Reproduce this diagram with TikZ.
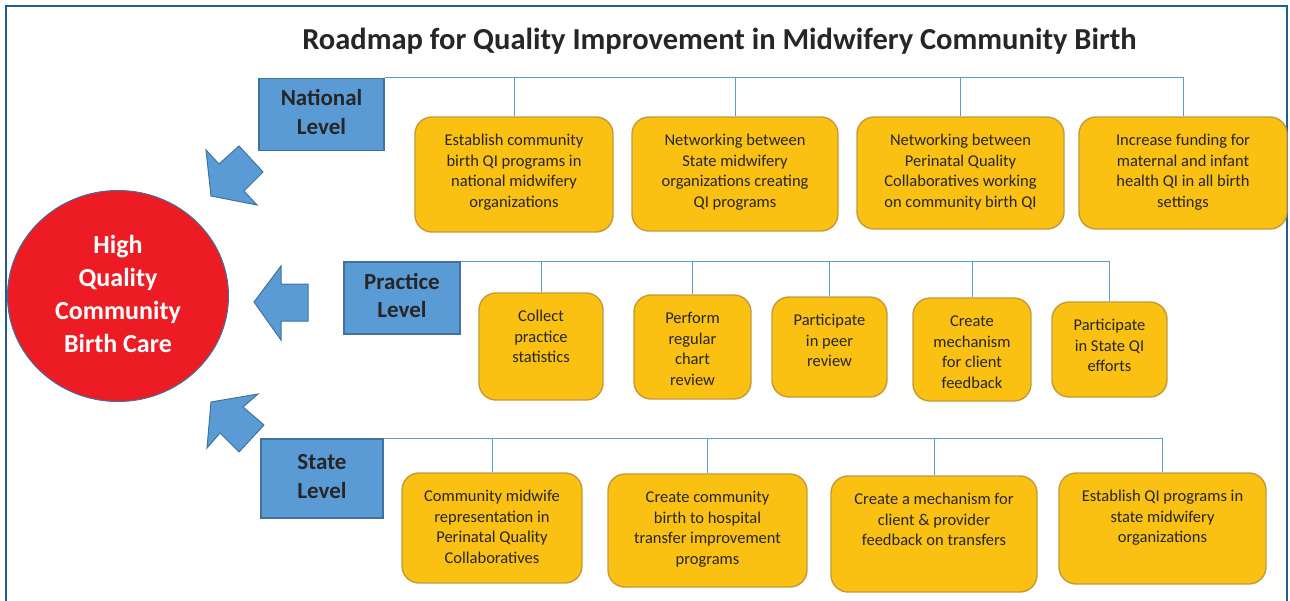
\documentclass[tikz,border=0pt]{standalone}
\usepackage{fontspec}
\setmainfont{Carlito}
\usetikzlibrary{shapes.geometric}

\definecolor{frameblue}{HTML}{1F5F8F}
\definecolor{levelfill}{HTML}{5B9BD5}
\definecolor{levelline}{HTML}{41719C}
\definecolor{goldfill}{HTML}{FAC012}
\definecolor{goldline}{HTML}{C39A3A}
\definecolor{goalred}{HTML}{ED1C24}
\definecolor{bodytext}{HTML}{262626}

\begin{document}
\begin{tikzpicture}[x=1pt,y=-1pt,
  levelbox/.style={draw=levelline, fill=levelfill, line width=1.4pt, inner sep=0pt,
    align=center, text=bodytext, font=\fontsize{23}{28.5}\selectfont\bfseries},
  goldbox/.style={draw=goldline, fill=goldfill, line width=1.4pt, rounded corners=17pt, inner sep=0pt},
  goldtext/.style={anchor=north, align=center, inner sep=0pt, yshift=-14.65pt,
    text=bodytext, font=\fontsize{16.5}{20.5}\selectfont},
  bus/.style={draw=levelfill, line width=1pt},
  blockarrow/.style={draw=levelline, fill=levelfill, line width=1pt, line join=miter},
]
\useasboundingbox (0,0) rectangle (1290,600);

% outer frame (runs off the lower edge)
\draw[frameblue, line width=1.5pt] (6,606) -- (6,6) -- (1287,6) -- (1287,606);

% title
\node[anchor=base, inner sep=0pt, text=bodytext, font=\fontsize{30.5}{36}\selectfont\bfseries]
  (title) at (719.5,49.5) {Roadmap for Quality Improvement in Midwifery Community Birth};

% goal
\node[ellipse, draw=levelline, fill=goalred, line width=1pt, minimum width=221pt,
  minimum height=211pt, inner sep=0pt, align=center, text=white,
  font=\fontsize{26}{33}\selectfont\bfseries] (goal) at (118,296)
  {\strut High\\Quality\\Community\\Birth Care\strut};

% block arrows pointing at the goal
\draw[blockarrow] (211,196) -- (206,150) -- (219,164) -- (239,146) -- (263,172)
  -- (244,191) -- (257,205) -- cycle;
\draw[blockarrow] (254,302) -- (281,266) -- (281,284) -- (308,284) -- (308,321)
  -- (281,321) -- (281,340) -- cycle;
\draw[blockarrow] (211,402) -- (258,394) -- (243,407) -- (264,425) -- (239,452)
  -- (220,433) -- (207,448) -- cycle;

% level boxes
\node[levelbox, minimum width=125pt, minimum height=72pt] (nat) at (321.5,114.5) {\strut National\\Level\strut};
\node[levelbox, minimum width=116pt, minimum height=72pt] (prac) at (402,298) {\strut Practice\\Level\strut};
\node[levelbox, minimum width=122pt, minimum height=79pt] (stat) at (322,478.5) {\strut State\\Level\strut};

% national actions
\node[goldbox, minimum width=198pt, minimum height=115pt] (n1) at (514,174.5) {};
\node[goldbox, minimum width=206pt, minimum height=114pt] (n2) at (735,174) {};
\node[goldbox, minimum width=207pt, minimum height=112pt] (n3) at (960.5,173) {};
\node[goldbox, minimum width=208pt, minimum height=112pt] (n4) at (1183,173) {};
\node[goldtext] (n1t) at (n1.north) {\strut Establish community\\birth QI programs in\\national midwifery\\organizations};
\node[goldtext] (n2t) at (n2.north) {\strut Networking between\\State midwifery\\organizations creating\\QI programs};
\node[goldtext] (n3t) at (n3.north) {\strut Networking between\\Perinatal Quality\\Collaboratives working\\on community birth QI};
\node[goldtext] (n4t) at (n4.north) {\strut Increase funding for\\maternal and infant\\health QI in all birth\\settings};

% practice actions
\node[goldbox, minimum width=124pt, minimum height=107pt] (p1) at (541,346.5) {};
\node[goldbox, minimum width=117pt, minimum height=104pt] (p2) at (692.5,347) {};
\node[goldbox, minimum width=115pt, minimum height=100pt] (p3) at (829.5,347) {};
\node[goldbox, minimum width=118pt, minimum height=103pt] (p4) at (972,349.5) {};
\node[goldbox, minimum width=115pt, minimum height=95pt] (p5) at (1109.5,349.5) {};
\node[goldtext] (p1t) at (p1.north) {\strut Collect\\practice\\statistics};
\node[goldtext] (p2t) at (p2.north) {\strut Perform\\regular\\chart\\review};
\node[goldtext] (p3t) at (p3.north) {\strut Participate\\in peer\\review};
\node[goldtext] (p4t) at (p4.north) {\strut Create\\mechanism\\for client\\feedback};
\node[goldtext] (p5t) at (p5.north) {\strut Participate\\in State QI\\efforts};

% state actions
\node[goldbox, minimum width=180pt, minimum height=110pt] (s1) at (492,528) {};
\node[goldbox, minimum width=199pt, minimum height=113pt] (s2) at (707.5,530.5) {};
\node[goldbox, minimum width=206pt, minimum height=116pt] (s3) at (934,534) {};
\node[goldbox, minimum width=207pt, minimum height=111pt] (s4) at (1162.5,528.5) {};
\node[goldtext] (s1t) at (s1.north) {\strut Community midwife\\representation in\\Perinatal Quality\\Collaboratives};
\node[goldtext] (s2t) at (s2.north) {\strut Create community\\birth to hospital\\transfer improvement\\programs};
\node[goldtext] (s3t) at (s3.north) {\strut Create a mechanism for\\client \& provider\\feedback on transfers};
\node[goldtext] (s4t) at (s4.north) {\strut Establish QI programs in\\state midwifery\\organizations};

% bus lines from each level to its actions
\draw[bus] (nat.north east) -- (n4.north |- nat.north east) -- (n4.north);
\foreach \b in {n1,n2,n3} \draw[bus] (\b.north |- nat.north east) -- (\b.north);
\draw[bus] (prac.north east) -- (p5.north |- prac.north east) -- (p5.north);
\foreach \b in {p1,p2,p3,p4} \draw[bus] (\b.north |- prac.north east) -- (\b.north);
\draw[bus] (stat.north east) -- (s4.north |- stat.north east) -- (s4.north);
\foreach \b in {s1,s2,s3} \draw[bus] (\b.north |- stat.north east) -- (\b.north);
\end{tikzpicture}
\end{document}
